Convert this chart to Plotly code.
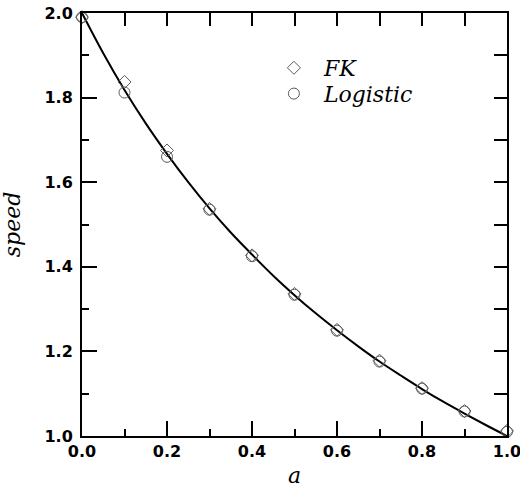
import plotly.graph_objects as go

# data
a_pts = [0.0, 0.1, 0.2, 0.3, 0.4, 0.5, 0.6, 0.7, 0.8, 0.9, 1.0]
fk_speed = [1.99, 1.837, 1.675, 1.537, 1.427, 1.336, 1.251, 1.178, 1.113, 1.059, 1.012]
logistic_speed = [1.99, 1.812, 1.660, 1.535, 1.425, 1.334, 1.249, 1.176, 1.112, 1.058, 1.010]

a_line = [0.0, 0.05, 0.1, 0.15, 0.2, 0.25, 0.3, 0.35, 0.4, 0.45, 0.5,
          0.55, 0.6, 0.65, 0.7, 0.75, 0.8, 0.85, 0.9, 0.95, 1.0]
speed_line = [2.000, 1.905, 1.818, 1.739, 1.667, 1.600, 1.538, 1.481, 1.429, 1.379, 1.333,
              1.290, 1.250, 1.212, 1.176, 1.143, 1.111, 1.081, 1.053, 1.026, 1.000]

tick_vals = [0.0, 0.2, 0.4, 0.6, 0.8, 1.0]
x_tick_text = ["0.0", "0.2", "0.4", "0.6", "0.8", "1.0"]
y_tick_vals = [1.0, 1.2, 1.4, 1.6, 1.8, 2.0]
y_tick_text = ["1.0", "1.2", "1.4", "1.6", "1.8", "2.0"]

fig = go.Figure()
fig.add_trace(go.Scatter(x=a_line, y=speed_line, mode="lines",
                         line=dict(color="black", width=2, shape="spline"),
                         showlegend=False, hoverinfo="skip"))
fig.add_trace(go.Scatter(x=a_pts, y=fk_speed, mode="markers", name="<i>FK</i>",
                         cliponaxis=False, legend="legend",
                         marker=dict(symbol="diamond-open", size=10,
                                     color="rgb(90,90,90)", line=dict(width=1))))
fig.add_trace(go.Scatter(x=a_pts, y=logistic_speed, mode="markers", name="<i>Logistic</i>",
                         cliponaxis=False, legend="legend2",
                         marker=dict(symbol="circle-open", size=11,
                                     color="rgb(90,90,90)", line=dict(width=1))))
# dummy trace for mirrored tick axes
fig.add_trace(go.Scatter(x=[None], y=[None], xaxis="x2", yaxis="y2",
                         showlegend=False, hoverinfo="skip"))

tickfont = dict(family="DejaVu Sans", size=16, color="black", weight="bold")
serif = "DejaVu Serif"
legfont = dict(family=serif, size=22, color="black")

fig.update_layout(
    width=520, height=491,
    margin=dict(l=82, r=13, t=13, b=55),
    paper_bgcolor="white", plot_bgcolor="white",
    xaxis=dict(range=[0, 1], tickvals=tick_vals, ticktext=x_tick_text,
               ticks="inside", ticklen=15, tickwidth=2, tickcolor="black",
               minor=dict(dtick=0.1, ticks="inside", ticklen=7, tickwidth=2, tickcolor="black"),
               showline=True, linewidth=2, linecolor="black", mirror=True,
               showgrid=False, zeroline=False, tickfont=tickfont,
               ticklabeloverflow="allow", automargin=False,
               title=dict(text="<i>a</i>", font=dict(family=serif, size=22, color="black"),
                          standoff=7)),
    yaxis=dict(range=[1, 2], tickvals=y_tick_vals, ticktext=y_tick_text,
               ticks="inside", ticklen=15, tickwidth=2, tickcolor="black",
               minor=dict(dtick=0.1, ticks="inside", ticklen=7, tickwidth=2, tickcolor="black"),
               showline=True, linewidth=2, linecolor="black", mirror=True,
               showgrid=False, zeroline=False, tickfont=tickfont,
               ticklabelstandoff=4, ticklabeloverflow="allow", automargin=False,
               title=dict(text="<i>speed</i>", font=dict(family=serif, size=22, color="black"),
                          standoff=20)),
    xaxis2=dict(range=[0, 1], overlaying="x", side="top", anchor="y",
                dtick=0.1, tick0=0, ticks="inside", ticklen=13, tickwidth=2, tickcolor="black",
                showticklabels=False, showgrid=False, zeroline=False, showline=False,
                automargin=False),
    yaxis2=dict(range=[1, 2], overlaying="y", side="right", anchor="x",
                dtick=0.1, tick0=1, ticks="inside", ticklen=13, tickwidth=2, tickcolor="black",
                showticklabels=False, showgrid=False, zeroline=False, showline=False,
                automargin=False),
    legend=dict(x=0.428, y=0.870, xanchor="left", yanchor="middle",
                bgcolor="rgba(0,0,0,0)", font=legfont, itemwidth=50),
    legend2=dict(x=0.428, y=0.809, xanchor="left", yanchor="middle",
                 bgcolor="rgba(0,0,0,0)", font=legfont, itemwidth=50),
)

fig.write_html("out.html")
